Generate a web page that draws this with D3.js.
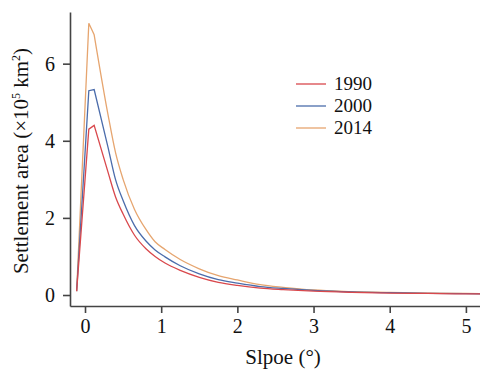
<!DOCTYPE html>
<html>
<head>
<meta charset="utf-8">
<script src="https://cdn.jsdelivr.net/npm/d3@7"></script>
<style>
  body { margin: 0; background: #fff; }
  svg text { font-family: "Liberation Serif", "Times New Roman", serif; fill: #111; }
</style>
</head>
<body>
<div id="chart"></div>
<script>
// slope (degrees) and settlement area (x10^5 km2)
var slope = [-0.11, 0.05, 0.12, 0.3, 0.4, 0.5, 0.65, 0.8, 0.92, 1.05, 1.25, 1.5, 1.75, 2.0, 2.3, 2.6, 3.0, 3.5, 4.0, 4.5, 5.0, 5.2];
var area1990 = [0.1, 4.3, 4.4, 3.2, 2.55, 2.1, 1.55, 1.2, 1.0, 0.83, 0.64, 0.46, 0.33, 0.25, 0.18, 0.14, 0.1, 0.07, 0.05, 0.04, 0.03, 0.03];
var area2000 = [0.1, 5.3, 5.33, 3.85, 3.0, 2.45, 1.8, 1.4, 1.17, 0.99, 0.76, 0.55, 0.4, 0.31, 0.22, 0.17, 0.12, 0.08, 0.06, 0.045, 0.035, 0.03];
var area2014 = [0.1, 7.05, 6.75, 4.7, 3.7, 3.0, 2.22, 1.7, 1.38, 1.18, 0.92, 0.68, 0.5, 0.39, 0.27, 0.2, 0.13, 0.09, 0.065, 0.05, 0.04, 0.035];
var years = ["1990", "2000", "2014"];
var xTicks = [0, 1, 2, 3, 4, 5];
var yTicks = [0, 2, 4, 6];

var colors = ["#d9484c", "#4b6cab", "#e6a56f"];

function init() {
    var w = 480, h = 371;
    var margin = { top: 12, right: 0, bottom: 65, left: 70 };
    var iw = w - margin.left - margin.right;
    var ih = h - margin.top - margin.bottom;

    var svg = d3.select("#chart")
        .append("svg")
        .attr("width", w)
        .attr("height", h);

    var g = svg.append("g")
        .attr("transform", "translate(" + margin.left + "," + margin.top + ")");

    var xScale = d3.scaleLinear().domain([-0.197, 5.185]).range([0, iw]);
    var yScale = d3.scaleLinear().domain([-0.285, 7.34]).range([ih, 0]);

    var series = [area1990, area2000, area2014];

    // straight segments around the peak, smooth decay after it
    var peakLine = d3.line()
        .x(function (d) { return xScale(d[0]); })
        .y(function (d) { return yScale(d[1]); });
    var tailLine = d3.line()
        .x(function (d) { return xScale(d[0]); })
        .y(function (d) { return yScale(d[1]); })
        .curve(d3.curveMonotoneX);

    // draw 2014 first so red ends on top
    [2, 1, 0].forEach(function (k) {
        var pts = slope.map(function (s, i) { return [s, series[k][i]]; });
        g.append("path")
            .attr("d", peakLine(pts.slice(0, 3)) + tailLine(pts.slice(2)).replace(/^M/, "L"))
            .attr("fill", "none")
            .attr("stroke", colors[k])
            .attr("stroke-width", 1.3)
            .attr("stroke-linejoin", "miter");
    });

    var xAxis = d3.axisBottom(xScale).tickValues(xTicks).tickFormat(d3.format("d"))
        .tickSize(7).tickSizeOuter(0).tickPadding(6);
    var yAxis = d3.axisLeft(yScale).tickValues(yTicks).tickFormat(d3.format("d"))
        .tickSize(7).tickSizeOuter(0).tickPadding(8);

    var gx = g.append("g")
        .attr("transform", "translate(0," + ih + ")")
        .call(xAxis);
    var gy = g.append("g").call(yAxis);

    [gx, gy].forEach(function (a) {
        a.select(".domain").attr("stroke", "#444").attr("stroke-width", 1.6);
        a.selectAll(".tick line").attr("stroke", "#444").attr("stroke-width", 1.6);
        a.selectAll(".tick text")
            .attr("font-family", "Liberation Serif")
            .attr("font-size", 20)
            .attr("fill", "#111");
    });

    // axis titles
    svg.append("text")
        .attr("x", margin.left + xScale(2.6))
        .attr("y", 364)
        .attr("text-anchor", "middle")
        .attr("font-size", 21)
        .text("Slpoe (°)");

    var yt = svg.append("text")
        .attr("transform", "translate(28,161) rotate(-90)")
        .attr("text-anchor", "middle")
        .attr("font-size", 21);
    yt.append("tspan").text("Settlement area (×10");
    yt.append("tspan").attr("font-size", 12).attr("dy", -8).text("5");
    yt.append("tspan").attr("dy", 8).text(" km");
    yt.append("tspan").attr("font-size", 12).attr("dy", -8).text("2");
    yt.append("tspan").attr("dy", 8).text(")");

    // legend
    var leg = svg.append("g").attr("transform", "translate(296,84)");
    years.forEach(function (y, i) {
        var row = leg.append("g").attr("transform", "translate(0," + (i * 22) + ")");
        row.append("line")
            .attr("x1", 0).attr("x2", 30)
            .attr("y1", 0).attr("y2", 0)
            .attr("stroke", colors[i])
            .attr("stroke-width", 1.3);
        row.append("text")
            .attr("x", 38)
            .attr("y", 6)
            .attr("font-size", 19)
            .text(y);
    });
}

window.onload = init;
</script>
</body>
</html>
